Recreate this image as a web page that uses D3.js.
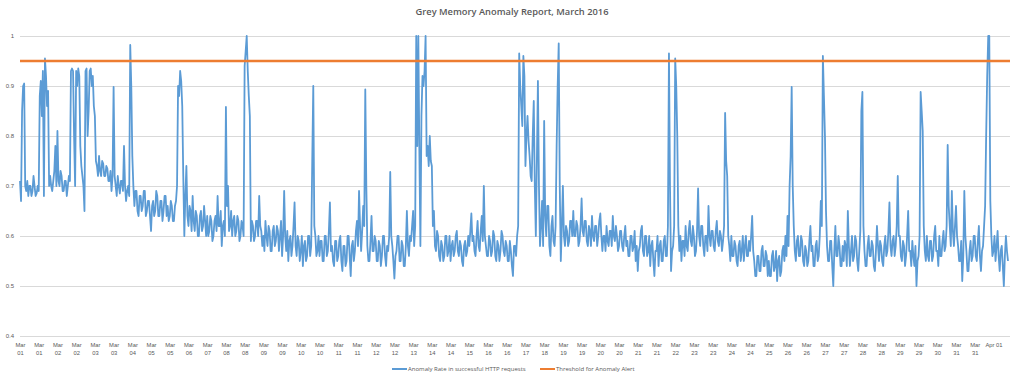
<!DOCTYPE html>
<html>
<head>
<meta charset="utf-8">
<script src="https://cdnjs.cloudflare.com/ajax/libs/d3/7.8.5/d3.min.js"></script>
<style>
  html, body { margin: 0; padding: 0; background: #fff; }
  text { font-family: "Open Sans", "Liberation Sans", sans-serif; fill: #595959; }
</style>
</head>
<body>
<div id="chart"></div>
<script>
// tick labels on the category axis, one every 18 readings
var tickLabels = ["Mar 01","Mar 01","Mar 02","Mar 02","Mar 03","Mar 03","Mar 04","Mar 05","Mar 05","Mar 06",
  "Mar 07","Mar 08","Mar 08","Mar 09","Mar 09","Mar 10","Mar 10","Mar 11","Mar 11","Mar 12",
  "Mar 12","Mar 13","Mar 14","Mar 14","Mar 15","Mar 16","Mar 16","Mar 17","Mar 18","Mar 19",
  "Mar 19","Mar 20","Mar 20","Mar 21","Mar 21","Mar 22","Mar 23","Mar 23","Mar 24","Mar 24",
  "Mar 25","Mar 26","Mar 26","Mar 27","Mar 27","Mar 28","Mar 28","Mar 29","Mar 29","Mar 30",
  "Mar 31","Mar 31","Apr 01"];
var labelEvery = 18;

var yTicks = [0.4, 0.5, 0.6, 0.7, 0.8, 0.9, 1];
var thresholdValue = 0.95;

// anomaly rate (18 readings per label)
var anomalyRate = [
  0.71,0.67,0.85,0.90,0.905,0.70,0.69,0.71,0.68,0.70,0.70,0.68,0.69,0.72,0.70,0.68,0.685,0.70,
  0.69,0.88,0.91,0.84,0.93,0.68,0.955,0.92,0.86,0.89,0.70,0.72,0.70,0.69,0.71,0.73,0.78,0.70,
  0.81,0.71,0.70,0.73,0.72,0.69,0.69,0.71,0.71,0.68,0.70,0.72,0.71,0.93,0.935,0.93,0.80,0.70,
  0.93,0.90,0.935,0.92,0.78,0.74,0.72,0.70,0.65,0.93,0.935,0.80,0.85,0.93,0.935,0.90,0.92,0.86,
  0.84,0.75,0.74,0.72,0.76,0.73,0.72,0.75,0.745,0.72,0.72,0.74,0.735,0.71,0.71,0.73,0.69,0.72,
  0.898,0.72,0.70,0.68,0.72,0.70,0.685,0.71,0.71,0.69,0.78,0.70,0.67,0.69,0.70,0.68,0.982,0.90,
  0.76,0.70,0.66,0.69,0.69,0.65,0.64,0.68,0.68,0.65,0.66,0.69,0.69,0.64,0.65,0.67,0.67,0.64,
  0.61,0.66,0.67,0.64,0.65,0.69,0.68,0.64,0.64,0.67,0.67,0.63,0.65,0.68,0.68,0.64,0.66,0.63,
  0.64,0.67,0.66,0.63,0.63,0.66,0.67,0.70,0.90,0.88,0.93,0.91,0.86,0.72,0.60,0.68,0.74,0.64,
  0.62,0.66,0.65,0.61,0.68,0.63,0.61,0.65,0.64,0.60,0.60,0.64,0.65,0.61,0.62,0.66,0.63,0.60,
  0.64,0.60,0.61,0.64,0.63,0.59,0.60,0.63,0.64,0.61,0.68,0.62,0.62,0.65,0.58,0.62,0.63,0.60,
  0.858,0.66,0.70,0.61,0.62,0.65,0.60,0.63,0.64,0.60,0.61,0.64,0.63,0.59,0.60,0.63,0.62,0.60,
  0.94,0.97,1.0,0.93,0.88,0.84,0.59,0.63,0.62,0.59,0.60,0.63,0.63,0.60,0.68,0.62,0.61,0.58,
  0.60,0.57,0.63,0.60,0.58,0.62,0.61,0.57,0.57,0.61,0.62,0.58,0.59,0.62,0.61,0.57,0.60,0.63,
  0.56,0.60,0.69,0.60,0.57,0.61,0.55,0.59,0.60,0.56,0.58,0.62,0.667,0.58,0.56,0.60,0.59,0.55,
  0.57,0.60,0.54,0.58,0.59,0.55,0.56,0.60,0.60,0.56,0.58,0.75,0.90,0.62,0.60,0.56,0.57,0.60,
  0.56,0.59,0.59,0.55,0.55,0.60,0.60,0.56,0.57,0.61,0.667,0.57,0.58,0.55,0.54,0.59,0.59,0.55,
  0.56,0.59,0.60,0.55,0.53,0.58,0.58,0.54,0.55,0.60,0.60,0.56,0.52,0.58,0.59,0.55,0.57,0.61,
  0.63,0.58,0.69,0.62,0.57,0.61,0.66,0.62,0.893,0.70,0.58,0.55,0.55,0.59,0.64,0.57,0.57,0.60,
  0.59,0.55,0.55,0.59,0.58,0.54,0.56,0.60,0.60,0.56,0.54,0.58,0.57,0.60,0.728,0.60,0.58,0.55,
  0.515,0.56,0.57,0.60,0.60,0.55,0.55,0.59,0.58,0.54,0.54,0.58,0.65,0.58,0.56,0.60,0.59,0.62,
  0.65,0.58,0.62,1.0,0.78,1.0,0.77,0.58,0.84,0.92,0.90,0.93,1.0,0.76,0.78,0.74,0.80,0.75,
  0.74,0.62,0.65,0.58,0.57,0.61,0.60,0.56,0.55,0.59,0.58,0.55,0.56,0.60,0.60,0.56,0.57,0.60,
  0.55,0.58,0.59,0.56,0.57,0.60,0.61,0.57,0.56,0.59,0.58,0.55,0.54,0.58,0.59,0.56,0.57,0.60,
  0.58,0.61,0.645,0.59,0.60,0.57,0.56,0.60,0.63,0.58,0.57,0.61,0.64,0.59,0.70,0.60,0.58,0.56,
  0.56,0.60,0.59,0.56,0.57,0.61,0.60,0.56,0.55,0.59,0.58,0.55,0.57,0.61,0.60,0.57,0.56,0.59,
  0.58,0.55,0.55,0.59,0.57,0.54,0.52,0.58,0.58,0.56,0.60,0.62,0.965,0.90,0.86,0.82,0.96,0.92,
  0.74,0.80,0.84,0.79,0.76,0.72,0.71,0.80,0.87,0.70,0.60,0.75,0.91,0.70,0.58,0.62,0.67,0.58,
  0.83,0.64,0.60,0.66,0.66,0.58,0.56,0.62,0.64,0.59,0.58,0.62,0.78,0.90,0.985,0.70,0.55,0.62,
  0.70,0.60,0.58,0.62,0.61,0.58,0.59,0.63,0.63,0.60,0.65,0.60,0.60,0.63,0.62,0.58,0.59,0.62,
  0.675,0.61,0.60,0.63,0.63,0.59,0.58,0.62,0.61,0.58,0.64,0.60,0.59,0.62,0.62,0.58,0.60,0.63,
  0.645,0.60,0.57,0.60,0.60,0.57,0.62,0.59,0.58,0.61,0.61,0.58,0.64,0.60,0.59,0.62,0.60,0.57,
  0.58,0.61,0.61,0.58,0.57,0.60,0.62,0.58,0.59,0.56,0.56,0.60,0.60,0.57,0.58,0.61,0.55,0.58,
  0.53,0.57,0.58,0.61,0.62,0.57,0.56,0.60,0.60,0.56,0.57,0.60,0.54,0.58,0.59,0.55,0.52,0.57,
  0.57,0.60,0.54,0.58,0.59,0.55,0.55,0.59,0.60,0.56,0.56,0.62,0.965,0.70,0.53,0.57,0.58,0.62,
  0.955,0.90,0.80,0.62,0.57,0.60,0.55,0.59,0.59,0.56,0.62,0.58,0.57,0.61,0.63,0.59,0.58,0.62,
  0.60,0.56,0.57,0.61,0.695,0.60,0.58,0.62,0.62,0.58,0.56,0.60,0.60,0.57,0.66,0.60,0.58,0.61,
  0.61,0.58,0.57,0.61,0.63,0.59,0.58,0.61,0.60,0.57,0.59,0.62,0.846,0.75,0.72,0.60,0.58,0.55,
  0.60,0.56,0.56,0.59,0.58,0.55,0.54,0.58,0.59,0.55,0.57,0.60,0.55,0.58,0.60,0.56,0.56,0.59,
  0.57,0.60,0.64,0.57,0.55,0.52,0.52,0.56,0.56,0.53,0.53,0.57,0.58,0.54,0.54,0.57,0.56,0.52,
  0.55,0.52,0.52,0.56,0.57,0.53,0.54,0.57,0.51,0.55,0.56,0.52,0.53,0.57,0.58,0.55,0.60,0.56,
  0.64,0.58,0.70,0.76,0.898,0.70,0.62,0.57,0.55,0.59,0.60,0.56,0.56,0.60,0.59,0.55,0.54,0.58,
  0.57,0.54,0.55,0.59,0.62,0.57,0.58,0.54,0.54,0.58,0.59,0.55,0.56,0.60,0.67,0.62,0.96,0.88,
  0.80,0.65,0.58,0.55,0.55,0.59,0.59,0.54,0.50,0.57,0.62,0.56,0.56,0.60,0.58,0.54,0.54,0.58,
  0.55,0.59,0.58,0.54,0.65,0.58,0.54,0.57,0.60,0.55,0.56,0.60,0.59,0.55,0.53,0.57,0.61,0.85,
  0.888,0.62,0.57,0.54,0.54,0.58,0.60,0.56,0.56,0.59,0.58,0.54,0.53,0.57,0.62,0.58,0.55,0.59,
  0.58,0.55,0.54,0.58,0.60,0.56,0.57,0.61,0.667,0.58,0.56,0.59,0.60,0.56,0.58,0.62,0.72,0.60,
  0.60,0.56,0.55,0.59,0.58,0.54,0.56,0.60,0.65,0.57,0.57,0.54,0.59,0.56,0.54,0.58,0.50,0.55,
  0.56,0.60,0.888,0.85,0.81,0.62,0.57,0.55,0.60,0.56,0.55,0.59,0.59,0.55,0.56,0.60,0.62,0.57,
  0.57,0.54,0.60,0.56,0.56,0.59,0.61,0.57,0.58,0.62,0.782,0.66,0.62,0.58,0.69,0.61,0.58,0.62,
  0.66,0.60,0.58,0.55,0.55,0.59,0.51,0.56,0.69,0.60,0.57,0.53,0.53,0.57,0.59,0.55,0.56,0.60,
  0.60,0.56,0.55,0.59,0.62,0.56,0.53,0.57,0.58,0.62,0.66,0.80,0.92,1.0,1.0,0.67,0.60,0.56,
  0.57,0.60,0.55,0.58,0.61,0.56,0.53,0.57,0.58,0.54,0.50,0.56,0.60,0.57,0.55
];

var width = 1024,
    height = 379,
    plotLeft = 20,
    plotRight = 1010,
    plotTop = 36,
    plotBottom = 336;

var svg = d3.select("#chart")
    .append("svg")
    .attr("width", width)
    .attr("height", height);

var x = d3.scaleLinear()
    .domain([0, anomalyRate.length - 1])
    .range([plotLeft, 1008]);

var y = d3.scaleLinear()
    .domain([0.4, 1])
    .range([plotBottom, plotTop]);

// title
svg.append("text")
    .attr("x", 512)
    .attr("y", 15)
    .attr("text-anchor", "middle")
    .style("font-size", "9.3px")
    .style("font-weight", 600)
    .text("Grey Memory Anomaly Report, March 2016");

// y axis + gridlines
var yAxis = svg.append("g")
    .attr("transform", "translate(" + plotLeft + ",0)")
    .call(d3.axisLeft(y)
        .tickValues(yTicks)
        .tickSize(-(plotRight - plotLeft))
        .tickPadding(6)
        .tickFormat(d3.format("~g")));
yAxis.select(".domain").remove();
yAxis.selectAll(".tick line").attr("stroke", "#d9d9d9").attr("stroke-width", 1);
yAxis.selectAll(".tick text").style("font-size", "6px").style("font-family", "inherit").attr("fill", "#595959");

// x axis labels
var xAxis = svg.append("g")
    .attr("transform", "translate(0," + plotBottom + ")")
    .call(d3.axisBottom(x)
        .tickValues(tickLabels.map(function(d, i) { return i * labelEvery; }))
        .tickSize(0)
        .tickFormat(function(d) { return tickLabels[d / labelEvery]; }));
xAxis.select(".domain").remove();
xAxis.selectAll(".tick text")
    .style("font-size", "5.8px")
    .style("font-family", "inherit")
    .attr("fill", "#595959")
    .attr("y", 0)
    .attr("dy", null)
    .each(function(d) {
        var t = d3.select(this),
            label = tickLabels[d / labelEvery],
            parts = label.split(" ");
        t.text(null);
        if (d / labelEvery === tickLabels.length - 1) {
            t.append("tspan").attr("x", 0).attr("y", 11).text(label);
        } else {
            t.append("tspan").attr("x", 0).attr("y", 11).text(parts[0]);
            t.append("tspan").attr("x", 0).attr("y", 19).text(parts[1]);
        }
    });

// series line
var line = d3.line()
    .x(function(d, i) { return x(i); })
    .y(function(d) { return y(d); });

svg.append("path")
    .datum(anomalyRate)
    .attr("fill", "none")
    .attr("stroke", "#5B9BD5")
    .attr("stroke-width", 1.8)
    .attr("stroke-linejoin", "round")
    .attr("d", line);

// threshold line
svg.append("line")
    .attr("x1", plotLeft)
    .attr("x2", plotRight)
    .attr("y1", y(thresholdValue))
    .attr("y2", y(thresholdValue))
    .attr("stroke", "#ED7D31")
    .attr("stroke-width", 2.5);

// legend
var legend = [
    {name: "Anomaly Rate in successful HTTP requests", color: "#5B9BD5", x: 392},
    {name: "Threshold for Anomaly Alert", color: "#ED7D31", x: 540}
];
var lg = svg.append("g").selectAll("g")
    .data(legend)
    .enter().append("g")
    .attr("transform", function(d) { return "translate(" + d.x + ",369)"; });
lg.append("line")
    .attr("x1", 0).attr("x2", 15)
    .attr("stroke", function(d) { return d.color; })
    .attr("stroke-width", 2);
lg.append("text")
    .attr("x", 16)
    .attr("dy", "0.35em")
    .style("font-size", "6px")
    .text(function(d) { return d.name; });
</script>
</body>
</html>
